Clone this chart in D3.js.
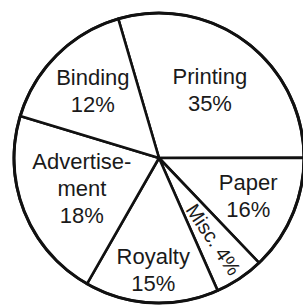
<!DOCTYPE html>
<html>
<head>
<meta charset="utf-8">
<script src="https://cdn.jsdelivr.net/npm/d3@7"></script>
<style>
  body { margin: 0; background: #fff; }
  svg text { font-family: "Liberation Sans", Arial, Helvetica, sans-serif; fill: #1a1a1a; }
</style>
</head>
<body>
<svg id="pie" width="303" height="305"></svg>
<script>
// categories, clockwise from the Printing/Binding line
var categories = ["Printing", "Paper", "Misc.", "Royalty", "Advertise-\nment", "Binding"];
// percent labels printed in the chart
var pctLabels = ["35%", "16%", "4%", "15%", "18%", "12%"];
// share of the circle each sector takes as drawn
var shares = [29.5, 12.9, 5.5, 14.9, 21.4, 15.8];

var svg = d3.select("#pie"),
    cx = 159, cy = 158,
    radius = 145,
    g = svg.append("g").attr("transform", "translate(" + cx + "," + cy + ")");

var start = -16.3 * Math.PI / 180;

var pie = d3.pie()
    .sort(null)
    .startAngle(start)
    .endAngle(start + 2 * Math.PI)
    .value(function(d) { return d; });

var arc = d3.arc().innerRadius(0).outerRadius(radius);

var arcs = pie(shares);

g.selectAll("path.slice")
    .data(arcs)
  .enter().append("path")
    .attr("class", "slice")
    .attr("d", arc)
    .attr("fill", "#fff")
    .attr("stroke", "#111")
    .attr("stroke-width", 2.6)
    .attr("stroke-linejoin", "round");

// outer rim a bit heavier
g.append("circle")
    .attr("r", radius)
    .attr("fill", "none")
    .attr("stroke", "#111")
    .attr("stroke-width", 3);

// label distance from centre, per slice
var labelR = [85, 97, 98, 112, 83, 94];
var fontSize = 22, lineH = 27;

arcs.forEach(function(d, i) {
  var mid = (d.startAngle + d.endAngle) / 2,
      lx = Math.sin(mid) * labelR[i],
      ly = -Math.cos(mid) * labelR[i];

  if (categories[i] === "Misc.") {
    // narrow slice: one line rotated along the sector
    var rot = mid * 180 / Math.PI - 90;
    g.append("text")
        .attr("transform", "translate(" + lx + "," + ly + ") rotate(" + rot + ")")
        .attr("text-anchor", "middle")
        .attr("dy", "0.35em")
        .style("font-size", "20px")
        .text(categories[i] + " " + pctLabels[i]);
    return;
  }

  var lines = categories[i].split("\n").concat([pctLabels[i]]);
  var y0 = ly - (lines.length - 1) * lineH / 2 + 7.5;
  var t = g.append("text")
      .attr("text-anchor", "middle")
      .style("font-size", fontSize + "px");
  lines.forEach(function(s, k) {
    t.append("tspan")
        .attr("x", lx)
        .attr("y", y0 + k * lineH)
        .text(s);
  });
});
</script>
</body>
</html>
